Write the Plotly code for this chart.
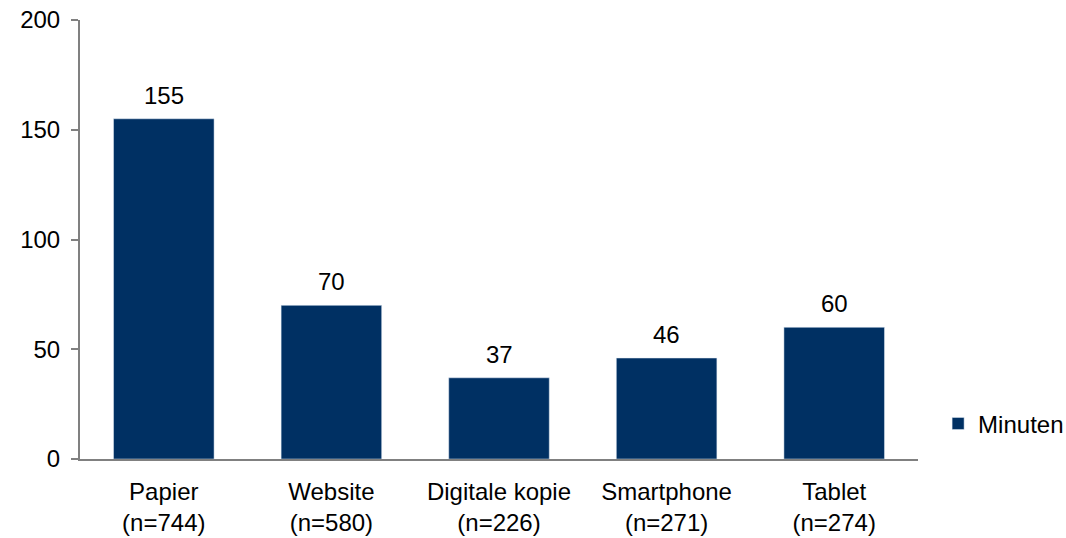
import plotly.graph_objects as go

categories = ["Papier", "Website", "Digitale kopie", "Smartphone", "Tablet"]
counts = [744, 580, 226, 271, 274]
minutes = [155, 70, 37, 46, 60]

BAR = "#003063"
AXIS = "#808080"
FONT = "Liberation Sans, Arial, sans-serif"
SIZE = 24

labels = [f"{c}<br>({'n=' + str(n)})" for c, n in zip(categories, counts)]

fig = go.Figure()
fig.add_trace(
    go.Bar(
        x=labels,
        y=minutes,
        name="Minuten",
        marker_color=BAR,
    )
)

# value labels sit a bit higher above the bars than plotly's own outside text
for lab, v in zip(labels, minutes):
    fig.add_annotation(
        x=lab,
        y=v,
        text=str(v),
        showarrow=False,
        yanchor="bottom",
        yshift=8,
        font=dict(size=SIZE, color="black"),
    )

fig.update_layout(
    width=1066,
    height=538,
    margin=dict(l=80, r=148, t=20, b=79, autoexpand=False),
    paper_bgcolor="white",
    plot_bgcolor="white",
    font=dict(family=FONT, size=SIZE, color="black"),
    bargap=0.4,
    showlegend=True,
    legend=dict(
        x=1.024,
        y=0.08,
        xanchor="left",
        yanchor="middle",
        font=dict(size=SIZE),
        bgcolor="rgba(0,0,0,0)",
        itemwidth=30,
    ),
)
fig.update_xaxes(
    showline=True,
    linecolor=AXIS,
    linewidth=2,
    ticks="",
    showgrid=False,
    zeroline=False,
    automargin=False,
    ticklabelstandoff=10,
)
fig.update_yaxes(
    range=[0, 200],
    tickvals=[0, 50, 100, 150, 200],
    showline=True,
    linecolor=AXIS,
    linewidth=2,
    ticks="outside",
    ticklen=7,
    tickcolor=AXIS,
    tickwidth=1.5,
    showgrid=False,
    zeroline=False,
    automargin=False,
    ticklabelstandoff=6,
    ticklabeloverflow="allow",
)

# drop the default 8px body margin so the figure fills the window exactly
fig.write_html(
    "out.html",
    config={"displayModeBar": False},
    post_script="document.body.style.margin='0';",
)
